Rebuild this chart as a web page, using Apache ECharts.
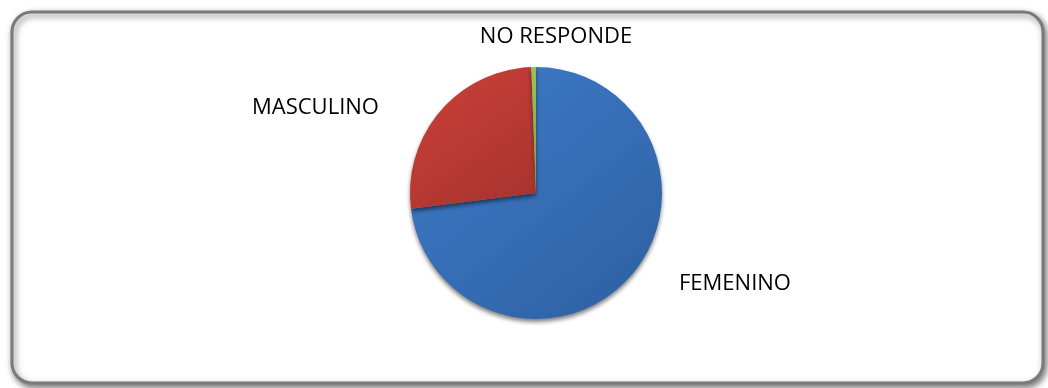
<!DOCTYPE html>
<html>
<head>
<meta charset="utf-8">
<script src="https://cdn.jsdelivr.net/npm/echarts@6/dist/echarts.min.js"></script>
<style>
html,body{margin:0;padding:0;background:#fff;}
#c{width:1048px;height:388px;}
</style>
</head>
<body>
<div id="c"></div>
<script>
const categories = ['FEMENINO', 'MASCULINO', 'NO RESPONDE'];
const values = [73.0, 26.4, 0.6];
const colorsLight = ['#3F7CC9', '#CB4139', '#9CC153'];
const colorsDark = ['#2F62A6', '#A9342E', '#7FA23F'];

const labelPos = {
  'FEMENINO': {x: 679, y: 284, align: 'left'},
  'MASCULINO': {x: 252, y: 108, align: 'left'},
  'NO RESPONDE': {x: 556, y: 37, align: 'center'}
};

const chart = echarts.init(document.getElementById('c'), null, {renderer: 'canvas'});
chart.setOption({
  animation: false,
  backgroundColor: '#ffffff',
  graphic: [{
    type: 'rect',
    z: -10,
    shape: {x: 12, y: 12, width: 1031, height: 371, r: 20},
    style: {
      fill: '#ffffff',
      stroke: '#7a7a7a',
      lineWidth: 3,
      shadowBlur: 6,
      shadowOffsetX: 2,
      shadowOffsetY: 3,
      shadowColor: 'rgba(0,0,0,0.5)'
    }
  }],
  series: [{
    type: 'pie',
    center: [536, 193],
    radius: [0, 126],
    startAngle: 90,
    clockwise: true,
    avoidLabelOverlap: false,
    data: categories.map((name, i) => ({
      name: name,
      value: values[i],
      itemStyle: {
        color: new echarts.graphic.LinearGradient(0, 0, 0.8, 1, [
          {offset: 0, color: colorsLight[i]},
          {offset: 1, color: colorsDark[i]}
        ])
      }
    })),
    itemStyle: {
      borderWidth: 0,
      shadowBlur: 4,
      shadowOffsetY: 3,
      shadowColor: 'rgba(0,0,0,0.5)'
    },
    label: {
      show: true,
      position: 'outside',
      formatter: '{b}',
      color: '#000000',
      fontFamily: 'Open Sans',
      fontSize: 22,
      verticalAlign: 'middle'
    },
    labelLine: {show: false},
    labelLayout: function (params) {
      const name = categories[params.dataIndex];
      const p = labelPos[name];
      return {x: p.x, y: p.y, align: p.align, verticalAlign: 'middle', hideOverlap: false};
    },
    emphasis: {disabled: true}
  }]
});
</script>
</body>
</html>
